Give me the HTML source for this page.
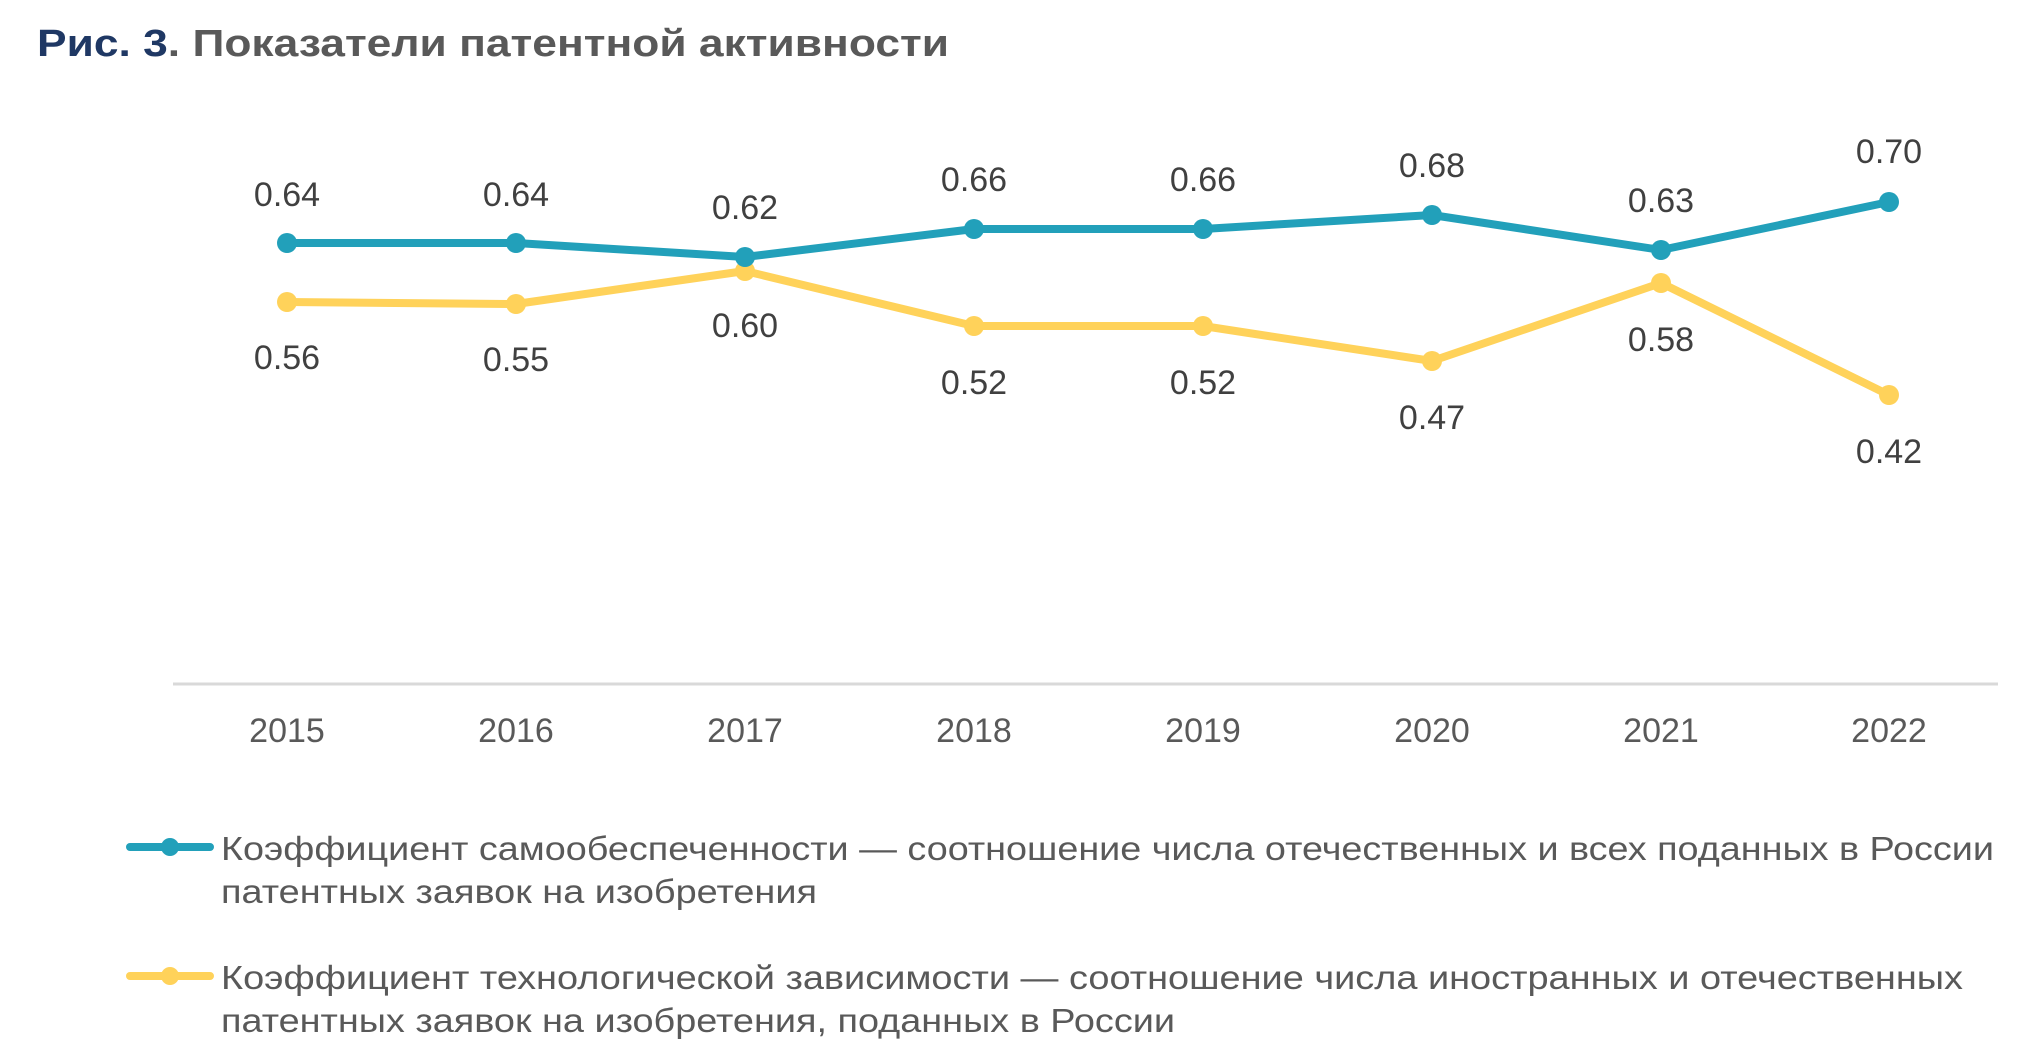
<!DOCTYPE html>
<html><head><meta charset="utf-8"><style>
html,body{margin:0;padding:0;background:#fff;}
svg{display:block;}
text{font-family:"Liberation Sans",Arial,sans-serif;}
</style></head><body>
<svg width="2033" height="1058" viewBox="0 0 2033 1058" xmlns="http://www.w3.org/2000/svg">
<text x="37" y="56" font-size="38" font-weight="bold" fill="#595959" textLength="912" lengthAdjust="spacingAndGlyphs"><tspan fill="#1f3864">Рис. 3</tspan>. Показатели патентной активности</text>
<line x1="173" y1="684" x2="1998" y2="684" stroke="#d9d9d9" stroke-width="3"/>
<g font-size="34" fill="#595959" text-anchor="middle">
<text x="287" y="742">2015</text><text x="516" y="742">2016</text><text x="745" y="742">2017</text><text x="974" y="742">2018</text>
<text x="1203" y="742">2019</text><text x="1432" y="742">2020</text><text x="1661" y="742">2021</text><text x="1889" y="742">2022</text>
</g>
<polyline fill="none" stroke="#ffd25a" stroke-width="8" stroke-linejoin="round" points="287,302 516,304 745,271 974,326 1203,326 1432,361 1661,283 1889,395"/>
<polyline fill="none" stroke="#22a0ba" stroke-width="8" stroke-linejoin="round" points="287,243 516,243 745,257 974,229 1203,229 1432,215 1661,250 1889,202"/>
<g fill="#ffd25a">
<circle cx="287" cy="302" r="10"/><circle cx="516" cy="304" r="10"/><circle cx="745" cy="271" r="10"/><circle cx="974" cy="326" r="10"/><circle cx="1203" cy="326" r="10"/><circle cx="1432" cy="361" r="10"/><circle cx="1661" cy="283" r="10"/><circle cx="1889" cy="395" r="10"/>
</g>
<g fill="#22a0ba">
<circle cx="287" cy="243" r="10"/><circle cx="516" cy="243" r="10"/><circle cx="745" cy="257" r="10"/><circle cx="974" cy="229" r="10"/><circle cx="1203" cy="229" r="10"/><circle cx="1432" cy="215" r="10"/><circle cx="1661" cy="250" r="10"/><circle cx="1889" cy="202" r="10"/>
</g>
<g font-size="34" fill="#404040" text-anchor="middle">
<text x="287" y="206">0.64</text><text x="516" y="206">0.64</text><text x="745" y="219">0.62</text><text x="974" y="191">0.66</text>
<text x="1203" y="191">0.66</text><text x="1432" y="177">0.68</text><text x="1661" y="212">0.63</text><text x="1889" y="163">0.70</text>
<text x="287" y="369">0.56</text><text x="516" y="371">0.55</text><text x="745" y="337">0.60</text><text x="974" y="394">0.52</text>
<text x="1203" y="394">0.52</text><text x="1432" y="429">0.47</text><text x="1661" y="351">0.58</text><text x="1889" y="463">0.42</text>
</g>
<line x1="130" y1="847" x2="210" y2="847" stroke="#22a0ba" stroke-width="8" stroke-linecap="round"/>
<circle cx="170" cy="847" r="9" fill="#22a0ba"/>
<line x1="130" y1="976" x2="210" y2="976" stroke="#ffd25a" stroke-width="8" stroke-linecap="round"/>
<circle cx="170" cy="976" r="9" fill="#ffd25a"/>
<g font-size="33" fill="#595959">
<text x="221" y="860" textLength="1773" lengthAdjust="spacingAndGlyphs">Коэффициент самообеспеченности —  соотношение числа отечественных и всех поданных в России</text>
<text x="221" y="903" textLength="596" lengthAdjust="spacingAndGlyphs">патентных заявок на изобретения</text>
<text x="221" y="989" textLength="1742" lengthAdjust="spacingAndGlyphs">Коэффициент технологической зависимости —  соотношение числа иностранных и отечественных</text>
<text x="221" y="1032" textLength="954" lengthAdjust="spacingAndGlyphs">патентных заявок на изобретения, поданных в России</text>
</g>
</svg>
</body></html>
